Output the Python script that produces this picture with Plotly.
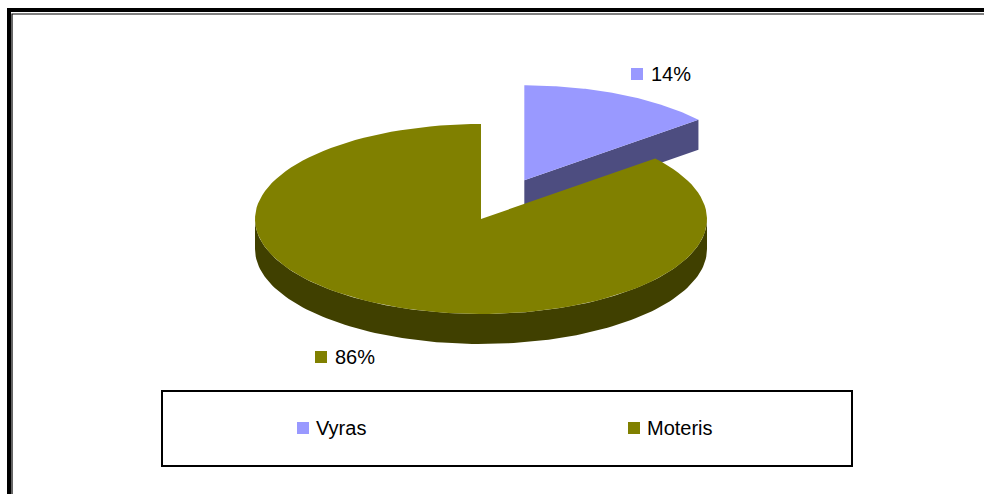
"""
Exploded 3D-style pie chart (Vyras / Moteris) drawn with filled scatter traces.
"""

import numpy as np
import plotly.graph_objects as go

# data
categories = ["Vyras", "Moteris"]
shares = [14, 86]
top_colors = ["#9999FF", "#808000"]
side_colors = ["#4D4D80", "#404000"]
explode = [0.45, 0.0]

# pie geometry (page pixel space, y grows downwards)
CX, CY = 481, 219
RX, RY = 226, 95
DEPTH = 30
FONT = "Liberation Sans, Arial, sans-serif"


def rim(cx, cy, t, dy=0.0):
    return cx + RX * np.sin(t), cy - RY * np.cos(t) + dy


def arc(cx, cy, t0, t1, dy=0.0, n=120):
    t = np.linspace(t0, t1, n)
    return rim(cx, cy, t, dy)


def poly_trace(xs, ys, color):
    return go.Scatter(
        x=np.append(xs, xs[0]), y=np.append(ys, ys[0]),
        mode="lines", fill="toself", fillcolor=color,
        line=dict(width=0, color=color), hoverinfo="skip", showlegend=False,
    )


fig = go.Figure()

total = float(sum(shares))
angles = np.cumsum([0] + shares) / total * 2 * np.pi

slices = []
for i, name in enumerate(categories):
    t0, t1 = angles[i], angles[i + 1]
    mid = (t0 + t1) / 2
    cx = CX + explode[i] * RX * np.sin(mid)
    cy = CY - explode[i] * RY * np.cos(mid)
    slices.append((i, t0, t1, cx, cy))

# exploded slices sit behind, draw them first
slices.sort(key=lambda s: -explode[s[0]])

for i, t0, t1, cx, cy in slices:
    # radial side faces
    for t, visible in ((t1, np.sin(t1) > 1e-9), (t0, np.sin(t0) < -1e-9)):
        if visible:
            rx_, ry_ = rim(cx, cy, t)
            xs = np.array([cx, rx_, rx_, cx])
            ys = np.array([cy, ry_, ry_ + DEPTH, cy + DEPTH])
            fig.add_trace(poly_trace(xs, ys, side_colors[i]))
    # outer curved side (front half only)
    a, b = max(t0, np.pi / 2), min(t1, 3 * np.pi / 2)
    if b > a:
        ux, uy = arc(cx, cy, a, b)
        lx, ly = arc(cx, cy, b, a, DEPTH)
        fig.add_trace(poly_trace(np.concatenate([ux, lx]),
                                 np.concatenate([uy, ly]), side_colors[i]))
    # top face
    ax_, ay_ = arc(cx, cy, t0, t1)
    fig.add_trace(poly_trace(np.concatenate([[cx], ax_]),
                             np.concatenate([[cy], ay_]), top_colors[i]))

shapes = []
annotations = []

# data labels (square key + percentage)
label_pos = [(631, 74), (315, 357)]
for i, (lx, ly) in enumerate(label_pos):
    shapes.append(dict(type="rect", x0=lx, x1=lx + 12, y0=ly - 6, y1=ly + 6,
                       fillcolor=top_colors[i], line=dict(width=0)))
    annotations.append(dict(x=lx + 18, y=ly, text=f"{shares[i]}%",
                            showarrow=False, xanchor="left", yanchor="middle",
                            font=dict(family=FONT, size=20, color="black")))

# legend box
shapes.append(dict(type="rect", x0=162, x1=852, y0=391, y1=466,
                   line=dict(color="black", width=2), fillcolor="rgba(0,0,0,0)"))
legend_x = [297, 628]
for i, lx in enumerate(legend_x):
    shapes.append(dict(type="rect", x0=lx, x1=lx + 12, y0=422, y1=434,
                       fillcolor=top_colors[i], line=dict(width=0)))
    annotations.append(dict(x=lx + 17, y=428, text=categories[i], showarrow=False,
                            xanchor="left", yanchor="middle",
                            font=dict(family=FONT, size=20, color="black")))

# chart frame (thick outer + thin inner line), running off the right/bottom edge
shapes.append(dict(type="path", path="M 9,520 L 9,10 L 1010,10",
                   line=dict(color="black", width=4)))
shapes.append(dict(type="path", path="M 12,520 L 12,14 L 1010,14",
                   line=dict(color="black", width=1.2)))

fig.update_layout(
    width=984, height=494,
    margin=dict(l=0, r=0, t=0, b=0),
    paper_bgcolor="white", plot_bgcolor="white",
    xaxis=dict(range=[0, 984], visible=False, fixedrange=True),
    yaxis=dict(range=[494, 0], visible=False, fixedrange=True),
    shapes=shapes, annotations=annotations, showlegend=False,
)

fig.write_html(
    "out.html",
    config={"displayModeBar": False},
    post_script="document.body.style.margin='0';document.body.style.overflow='hidden';",
)
